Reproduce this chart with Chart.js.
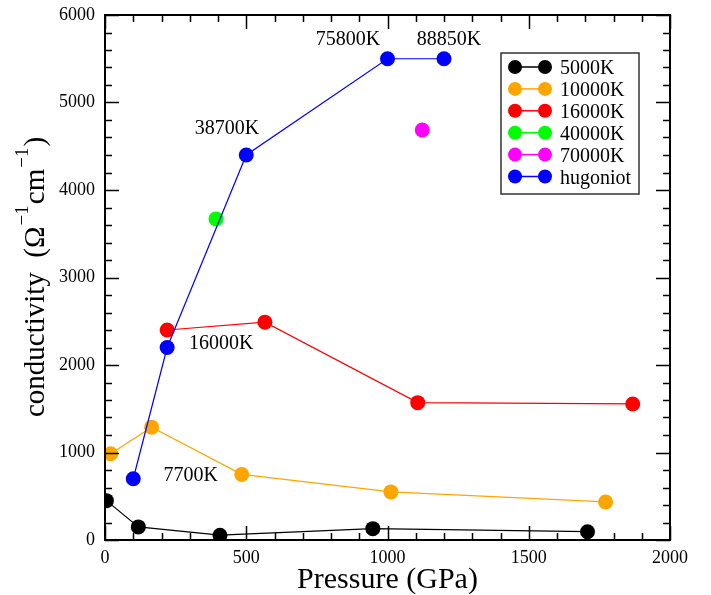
<!DOCTYPE html>
<html>
<head>
<meta charset="utf-8">
<script src="https://cdn.jsdelivr.net/npm/chart.js@4/dist/chart.umd.min.js"></script>
<style>
  html, body { margin: 0; padding: 0; background: #fff; }
  #wrap { width: 711px; height: 595px; }
</style>
</head>
<body>
<div id="wrap"><canvas id="chart" width="711" height="595"></canvas></div>
<script>
// series (pressure in GPa, conductivity in 1/(ohm cm))
const seriesNames = ["5000K", "10000K", "16000K", "40000K", "70000K", "hugoniot"]
const p5000 = [5, 118, 407, 948, 1708]
const s5000 = [450, 150, 55, 130, 95]
const p10000 = [20, 165, 484, 1012, 1772]
const s10000 = [985, 1290, 750, 550, 435]
const p16000 = [220, 566, 1107, 1868]
const s16000 = [2400, 2490, 1570, 1555]
const p40000 = [393]
const s40000 = [3670]
const p70000 = [1123]
const s70000 = [4685]
const pHug = [100, 220, 500, 1000, 1200]
const sHug = [700, 2200, 4400, 5500, 5500]

// temperature labels along the hugoniot, in data units
const noteText = ["75800K", "88850K", "38700K", "16000K", "7700K"]
const noteX = [860, 1218, 432, 411, 303]
const noteY = [5714, 5714, 4697, 2240, 731]

const xTicks = [0, 500, 1000, 1500, 2000]
const yTicks = [0, 1000, 2000, 3000, 4000, 5000, 6000]

const colors = {
  black: "#000000",
  orange: "#ffa500",
  red: "#ff0000",
  green: "#00ff00",
  magenta: "#ff00ff",
  blue: "#0000ff",
}
const serif = "'Liberation Serif', 'Times New Roman', serif"

function pts(xs, ys) {
  return xs.map((x, i) => ({ x: x, y: ys[i] }))
}

function series(label, xs, ys, color, order) {
  return {
    label: label,
    data: pts(xs, ys),
    showLine: true,
    borderColor: color,
    backgroundColor: color,
    borderWidth: 1.2,
    pointRadius: 7.5,
    pointHoverRadius: 7.5,
    pointBorderWidth: 0,
    order: order,
  }
}

const datasets = [
  series(seriesNames[0], p5000, s5000, colors.black, 6),
  series(seriesNames[1], p10000, s10000, colors.orange, 5),
  series(seriesNames[2], p16000, s16000, colors.red, 4),
  series(seriesNames[3], p40000, s40000, colors.green, 3),
  series(seriesNames[4], p70000, s70000, colors.magenta, 2),
  series(seriesNames[5], pHug, sHug, colors.blue, 1),
]

// frame, inward ticks, axis titles, notes and the boxed legend
const decor = {
  id: "decor",
  afterDraw(chart) {
    const ctx = chart.ctx
    const a = chart.chartArea
    const xs = chart.scales.x
    const ys = chart.scales.y
    ctx.save()

    ctx.strokeStyle = "#000"
    ctx.lineWidth = 1.5
    ctx.beginPath()
    for (let v = 0; v <= 2000; v += 100) {
      const px = Math.round(xs.getPixelForValue(v)) + 0.5
      const len = v % 500 === 0 ? 14 : 7
      ctx.moveTo(px, a.bottom)
      ctx.lineTo(px, a.bottom - len)
      ctx.moveTo(px, a.top)
      ctx.lineTo(px, a.top + len)
    }
    for (let v = 0; v <= 6000; v += 200) {
      const py = Math.round(ys.getPixelForValue(v)) + 0.5
      const len = v % 1000 === 0 ? 14 : 7
      ctx.moveTo(a.left, py)
      ctx.lineTo(a.left + len, py)
      ctx.moveTo(a.right, py)
      ctx.lineTo(a.right - len, py)
    }
    ctx.stroke()
    ctx.lineWidth = 2
    ctx.strokeRect(a.left, a.top, a.right - a.left, a.bottom - a.top)

    // notes
    ctx.fillStyle = "#000"
    ctx.font = "20px " + serif
    ctx.textAlign = "center"
    ctx.textBaseline = "middle"
    noteText.forEach((t, i) => {
      ctx.fillText(t, xs.getPixelForValue(noteX[i]), ys.getPixelForValue(noteY[i]))
    })

    // x title
    ctx.font = "30px " + serif
    ctx.textBaseline = "alphabetic"
    ctx.fillText("Pressure (GPa)", (a.left + a.right) / 2, 588)

    // y title with superscripts
    const parts = [
      { t: "conductivity  (Ω", sup: false },
      { t: "−1", sup: true },
      { t: "cm", sup: false },
      { t: "−1", sup: true },
      { t: ")", sup: false },
    ]
    const big = "29px " + serif
    const small = "19px " + serif
    let total = 0
    parts.forEach(p => {
      ctx.font = p.sup ? small : big
      p.w = ctx.measureText(p.t).width + (p.sup ? 2 : 0)
      total += p.w
    })
    ctx.translate(44, 277)
    ctx.rotate(-Math.PI / 2)
    ctx.textAlign = "left"
    let cx = -total / 2
    parts.forEach(p => {
      ctx.font = p.sup ? small : big
      ctx.fillText(p.t, cx + (p.sup ? 1 : 0), p.sup ? -16 : 0)
      cx += p.w
    })
    ctx.setTransform(1, 0, 0, 1, 0, 0)

    // legend box
    const lx = 501, ly = 53, lw = 138, lh = 141
    ctx.fillStyle = "#fff"
    ctx.fillRect(lx, ly, lw, lh)
    ctx.strokeStyle = "#333"
    ctx.lineWidth = 1.5
    ctx.strokeRect(lx, ly, lw, lh)
    ctx.font = "20px " + serif
    ctx.textAlign = "left"
    ctx.textBaseline = "middle"
    chart.data.datasets.forEach((ds, i) => {
      const rowY = 67 + i * 21.9
      ctx.strokeStyle = ds.borderColor
      ctx.lineWidth = 1.5
      ctx.beginPath()
      ctx.moveTo(515, rowY)
      ctx.lineTo(545, rowY)
      ctx.stroke()
      ctx.fillStyle = ds.backgroundColor
      ;[515, 545].forEach(cxp => {
        ctx.beginPath()
        ctx.arc(cxp, rowY, 7, 0, Math.PI * 2)
        ctx.fill()
      })
      ctx.fillStyle = "#000"
      ctx.fillText(ds.label, 560, rowY + 2)
    })
    ctx.restore()
  },
}

new Chart(document.getElementById("chart"), {
  type: "scatter",
  data: { datasets: datasets },
  plugins: [decor],
  options: {
    responsive: false,
    animation: false,
    layout: { padding: { left: 0, top: 15, right: 41, bottom: 0 } },
    plugins: {
      legend: { display: false },
      tooltip: { enabled: false },
    },
    scales: {
      x: {
        type: "linear",
        min: 0,
        max: 2000,
        afterBuildTicks: s => { s.ticks = xTicks.map(v => ({ value: v })) },
        afterFit: s => {
          s.height = 55
          s.paddingLeft = 0
          s.paddingRight = 0
        },
        grid: { display: false, drawTicks: false },
        border: { display: false },
        ticks: {
          color: "#000",
          padding: 7,
          maxRotation: 0,
          font: { family: serif, size: 18 },
          callback: v => String(v),
        },
      },
      y: {
        type: "linear",
        min: 0,
        max: 6000,
        afterBuildTicks: s => { s.ticks = yTicks.map(v => ({ value: v })) },
        afterFit: s => {
          s.width = 105
          s.paddingTop = 0
          s.paddingBottom = 0
        },
        grid: { display: false, drawTicks: false },
        border: { display: false },
        ticks: {
          color: "#000",
          padding: 10,
          font: { family: serif, size: 18 },
          callback: v => String(v),
        },
      },
    },
  },
})
</script>
</body>
</html>
